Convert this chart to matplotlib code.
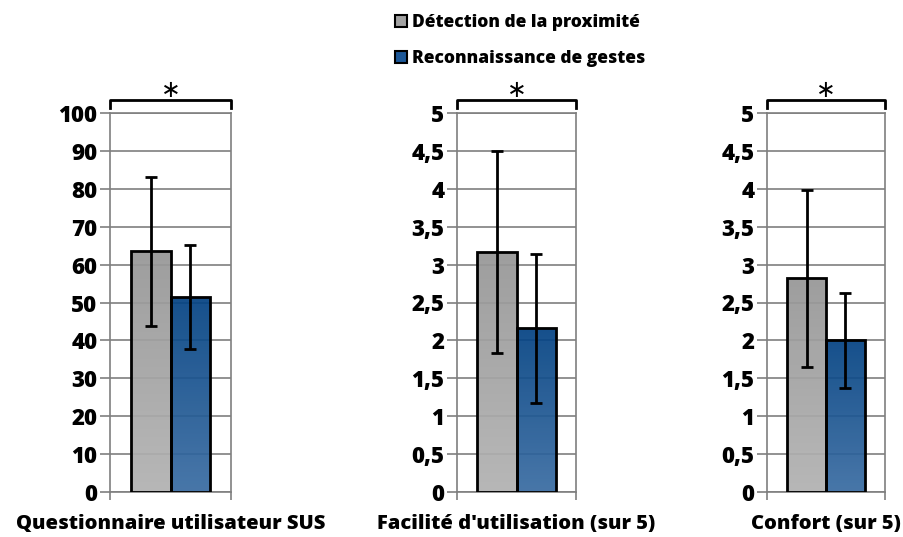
import numpy as np
import matplotlib.pyplot as plt
from matplotlib.colors import LinearSegmentedColormap
from matplotlib.patches import Patch

plt.rcParams['font.family'] = ['Open Sans', 'DejaVu Sans']

# data
series = ['Détection de la proximité', 'Reconnaissance de gestes']
panels = ['Questionnaire utilisateur SUS', "Facilité d'utilisation (sur 5)", 'Confort (sur 5)']
means = {
    'Détection de la proximité': [63.5, 3.17, 2.82],
    'Reconnaissance de gestes': [51.5, 2.16, 2.0],
}
errors = {
    'Détection de la proximité': [19.6, 1.33, 1.17],
    'Reconnaissance de gestes': [13.8, 0.98, 0.63],
}
y_max = [100, 5, 5]
y_step = [10, 0.5, 0.5]

grad = {
    'Détection de la proximité': ('#b2b2b2', '#979797'),
    'Reconnaissance de gestes': ('#3a6ca2', '#044383'),
}
solid = {'Détection de la proximité': '#a3a3a3', 'Reconnaissance de gestes': '#1d5898'}

fig = plt.figure(figsize=(9.04, 5.37), dpi=100)
lefts = [110, 457, 767]
rights = [231, 576, 885]
bottom, top = 492, 113
W, H = 904, 537

width = 0.33
offsets = [-width / 2, width / 2]


def fmt(v):
    if float(v).is_integer():
        return str(int(v))
    return str(v).replace('.', ',')


for i, name in enumerate(panels):
    ax = fig.add_axes([lefts[i] / W, 1 - bottom / H, (rights[i] - lefts[i]) / W, (bottom - top) / H])
    ax.set_xlim(-0.5, 0.5)
    ax.set_ylim(0, y_max[i])
    ticks = np.arange(0, y_max[i] + y_step[i] / 2, y_step[i])
    ax.set_yticks(ticks)
    ax.set_yticklabels([fmt(round(t, 1)) for t in ticks], fontsize=16, fontweight='heavy')
    ax.yaxis.grid(True, color='#7f7f7f', lw=1.2, zorder=0)
    ax.set_axisbelow(True)
    ax.tick_params(axis='y', length=7, width=1.2, color='#7f7f7f', pad=2)
    ax.set_xticks([-0.5, 0.5])
    ax.set_xticklabels(['', ''])
    ax.tick_params(axis='x', length=6, width=1.2, color='#7f7f7f')
    for s in ax.spines.values():
        s.set_color('#7f7f7f')
        s.set_linewidth(1.2)
    ax.set_xlabel(name, fontsize=14.5, fontweight='heavy', labelpad=6)

    for k, s in enumerate(series):
        x = offsets[k]
        v = means[s][i]
        bar = ax.bar(x, v, width, facecolor='none', edgecolor='black', lw=2, zorder=3)[0]
        cmap = LinearSegmentedColormap.from_list(s, grad[s])
        img = ax.imshow(np.linspace(0, 1, 100).reshape(-1, 1), cmap=cmap, aspect='auto',
                        extent=[x - width / 2, x + width / 2, 0, v], origin='lower',
                        alpha=0.93, zorder=2)
        img.set_clip_path(bar)
        ax.errorbar(x, v, yerr=errors[s][i], fmt='none', ecolor='black',
                    elinewidth=2, capsize=4, capthick=2, zorder=4)
    ax.set_xlim(-0.5, 0.5)
    ax.set_ylim(0, y_max[i])

    # significance bracket
    ax.plot([0, 0, 1, 1], [1.013, 1.034, 1.034, 1.013], transform=ax.transAxes,
            color='black', lw=2, clip_on=False)
    ax.text(0.5, 1.062, '\u2217', transform=ax.transAxes, ha='center', va='center',
            fontsize=17, family='DejaVu Sans', fontweight='normal')

handles = [Patch(facecolor=solid[s], edgecolor='black', lw=1.5, label=s) for s in series]
fig.legend(handles=handles, loc='upper left', bbox_to_anchor=(379 / W, 1.003),
           frameon=False, handlelength=0.7, handleheight=0.7, handletextpad=0.3,
           labelspacing=1.1, prop={'size': 12.5, 'weight': 'heavy'})

fig.savefig('out.png', dpi=100)
